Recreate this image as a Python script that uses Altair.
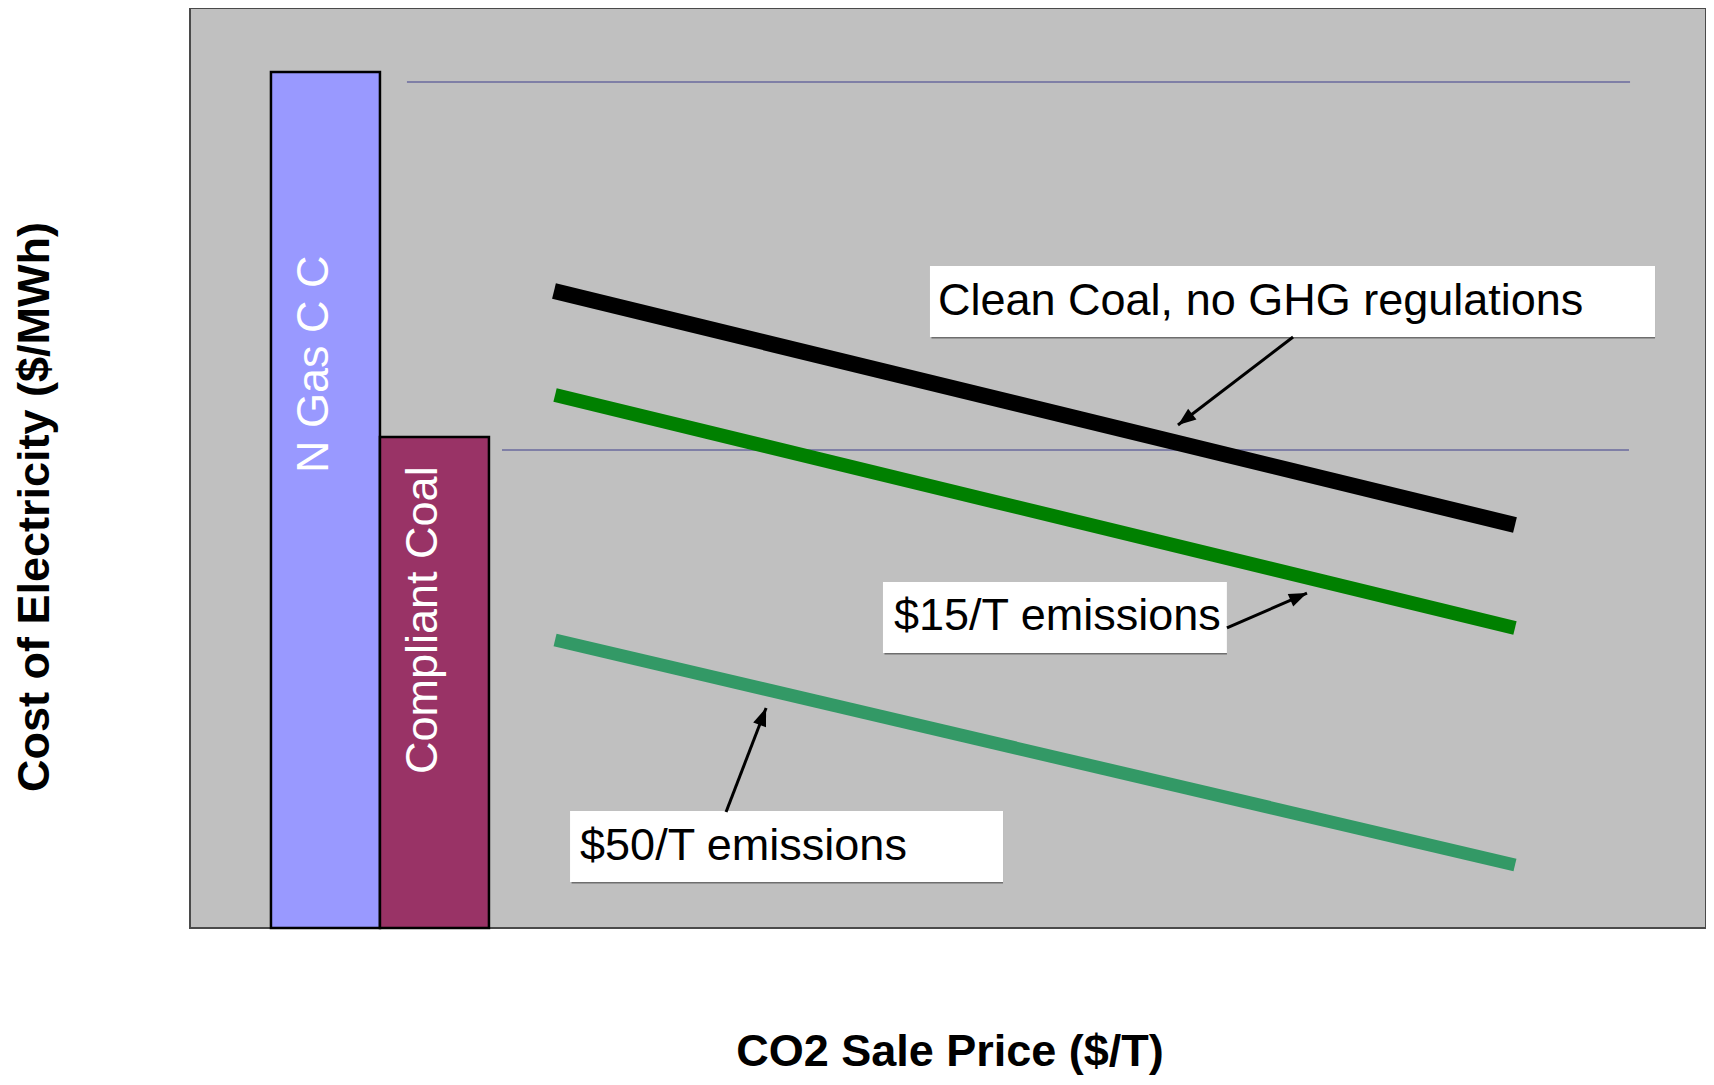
import math
import altair as alt
import pandas as pd

# ---------------- data (arbitrary index units, 0-100 on both axes) ----------------
bar_names = ["N Gas C C", "Compliant Coal"]
bar_x0 = [5.34, 12.53]
bar_x1 = [12.53, 19.72]
bar_top = [93.04, 53.37]
bar_label_x = [9.10, 16.29]
bar_label_y = [49.46, 16.74]

ref_x0 = [14.31, 20.58]
ref_x1 = [94.99, 94.92]
ref_y = [91.96, 51.96]

series_names = ["Clean Coal, no GHG regulations", "$15/T emissions", "$50/T emissions"]
series_x0 = [24.01, 24.08, 24.08]
series_x1 = [87.40, 87.40, 87.40]
series_y0 = [69.24, 57.93, 31.30]
series_y1 = [43.80, 32.61, 6.85]

box_x0 = [48.81, 45.71, 25.07]
box_x1 = [96.64, 68.40, 53.63]
box_y0 = [64.24, 29.89, 5.00]
box_y1 = [71.96, 37.61, 12.72]
box_text_x = [49.34, 46.44, 25.73]
box_text_y = [66.63, 32.39, 7.39]

arrow_x0 = [72.76, 68.40, 35.36]
arrow_y0 = [64.24, 32.61, 12.61]
arrow_x1 = [65.17, 73.68, 38.00]
arrow_y1 = [54.67, 36.41, 23.91]

x_title = "CO2 Sale Price ($/T)"
y_title = "Cost of Electricity ($/MWh)"

# ---------------- layout ----------------
W, H = 1516, 920
FONT = "Liberation Sans, Arial, sans-serif"

xs = alt.Scale(domain=[0, 100], nice=False, zero=False)
ys = alt.Scale(domain=[0, 100], nice=False, zero=False)

bars = pd.DataFrame({"name": bar_names, "x0": bar_x0, "x1": bar_x1,
                     "top": bar_top, "base": [0, 0],
                     "lx": bar_label_x, "ly": bar_label_y})
refs = pd.DataFrame({"x0": ref_x0, "x1": ref_x1, "y": ref_y})
series = pd.DataFrame({"name": series_names, "x0": series_x0, "x1": series_x1,
                       "y0": series_y0, "y1": series_y1})
boxes = pd.DataFrame({"name": series_names, "x0": box_x0, "x1": box_x1,
                      "y0": box_y0, "y1": box_y1, "tx": box_text_x, "ty": box_text_y})
titles = pd.DataFrame({"xt": [x_title], "yt": [y_title]})

px_x = W / 100.0
px_y = H / 100.0
angles = []
for sx, sy, tx, ty in zip(arrow_x0, arrow_y0, arrow_x1, arrow_y1):
    dx = (tx - sx) * px_x
    dy = -(ty - sy) * px_y
    angles.append(math.degrees(math.atan2(dx, -dy)) % 360)
arrows = pd.DataFrame({"x0": arrow_x0, "y0": arrow_y0, "x1": arrow_x1,
                       "y1": arrow_y1, "angle": angles})

colors_bar = alt.Color("name:N", scale=alt.Scale(domain=bar_names,
                                                 range=["#9999ff", "#993366"]),
                       legend=None)

bar_layer = alt.Chart(bars).mark_rect(stroke="black", strokeWidth=2.5).encode(
    x=alt.X("x0:Q", scale=xs, axis=None),
    x2="x1:Q",
    y=alt.Y("top:Q", scale=ys, axis=None),
    y2="base:Q",
    color=colors_bar,
)

bar_text = alt.Chart(bars).mark_text(
    angle=270, align="left", baseline="alphabetic", fontSize=45, font=FONT,
    color="white").encode(
    x=alt.X("lx:Q", scale=xs, axis=None),
    y=alt.Y("ly:Q", scale=ys, axis=None),
    text="name:N",
)

ref_layer = alt.Chart(refs).mark_rule(color="#6a6a9e", strokeWidth=1.6).encode(
    x=alt.X("x0:Q", scale=xs, axis=None),
    x2="x1:Q",
    y=alt.Y("y:Q", scale=ys, axis=None),
)

series_styles = [("#000000", 16), ("#008000", 14), ("#339966", 13)]
series_layers = []
for i, (col, sw) in enumerate(series_styles):
    series_layers.append(
        alt.Chart(series.iloc[[i]]).mark_rule(color=col, strokeWidth=sw,
                                              strokeCap="butt").encode(
            x=alt.X("x0:Q", scale=xs, axis=None),
            x2="x1:Q",
            y=alt.Y("y0:Q", scale=ys, axis=None),
            y2="y1:Q",
        )
    )

box_shadow = alt.Chart(boxes).mark_rect(color="#6e6e6e", xOffset=1.5, yOffset=1.5).encode(
    x=alt.X("x0:Q", scale=xs, axis=None), x2="x1:Q",
    y=alt.Y("y0:Q", scale=ys, axis=None), y2="y1:Q",
)
box_layer = alt.Chart(boxes).mark_rect(color="white").encode(
    x=alt.X("x0:Q", scale=xs, axis=None), x2="x1:Q",
    y=alt.Y("y0:Q", scale=ys, axis=None), y2="y1:Q",
)
box_text = alt.Chart(boxes).mark_text(
    align="left", baseline="alphabetic", fontSize=45, font=FONT, color="black").encode(
    x=alt.X("tx:Q", scale=xs, axis=None),
    y=alt.Y("ty:Q", scale=ys, axis=None),
    text="name:N",
)

arrow_lines = alt.Chart(arrows).mark_rule(color="black", strokeWidth=3).encode(
    x=alt.X("x0:Q", scale=xs, axis=None), x2="x1:Q",
    y=alt.Y("y0:Q", scale=ys, axis=None), y2="y1:Q",
)
arrow_heads = alt.Chart(arrows).mark_point(
    shape="M0,0 L-0.38,1 L0.38,1 Z", size=1300, filled=True, color="black",
    opacity=1).encode(
    x=alt.X("x1:Q", scale=xs, axis=None),
    y=alt.Y("y1:Q", scale=ys, axis=None),
    angle=alt.Angle("angle:Q", scale=None),
)

# axis titles (placed as text, since the chart has no ticks or labels)
x_title_mark = alt.Chart(titles).mark_text(
    align="center", baseline="alphabetic", fontSize=45, font=FONT,
    fontWeight="bold", color="black").encode(
    x=alt.value(760), y=alt.value(1058), text="xt:N")
y_title_mark = alt.Chart(titles).mark_text(
    align="center", baseline="alphabetic", fontSize=45, font=FONT,
    fontWeight="bold", color="black", angle=270).encode(
    x=alt.value(-141), y=alt.value(499), text="yt:N")

chart = alt.layer(
    bar_layer, bar_text, ref_layer, *series_layers,
    box_shadow, box_layer, box_text, arrow_lines, arrow_heads,
    x_title_mark, y_title_mark,
).properties(
    width=W, height=H,
    autosize=alt.AutoSizeParams(type="none"),
    padding={"left": 182, "top": 0, "right": 0, "bottom": 149},
).configure_view(
    fill="#c0c0c0", stroke="#4a4a4a", strokeWidth=2,
)

chart.save("out.html", embed_options={"renderer": "svg", "actions": False})
